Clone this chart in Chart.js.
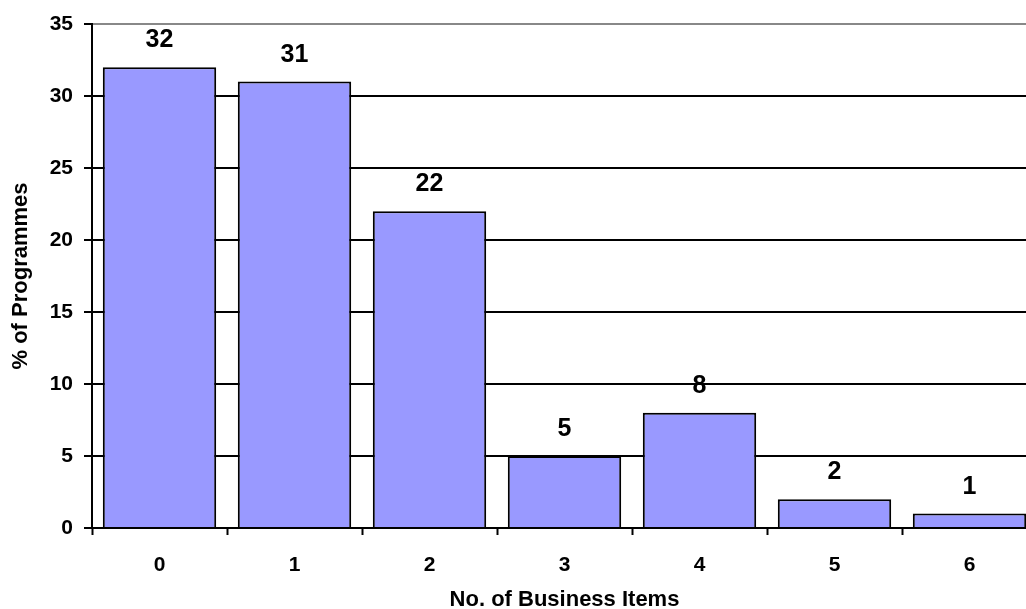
<!DOCTYPE html>
<html>
<head>
<meta charset="utf-8">
<script src="https://cdn.jsdelivr.net/npm/chart.js@4"></script>
<style>
  html, body { margin: 0; padding: 0; background: #fff; overflow: hidden; }
  #wrap { width: 1040px; height: 609px; }
</style>
</head>
<body>
<div id="wrap"><canvas id="myChart"></canvas></div>
<script>
// Datos
const categorias = ['0', '1', '2', '3', '4', '5', '6'];
const porcentajes = [32, 31, 22, 5, 8, 2, 1];
const tituloX = 'No. of Business Items';
const tituloY = '% of Programmes';

const fuente = '"Liberation Sans", Arial, sans-serif';

// Etiquetas de valor encima de cada barra
const etiquetas = {
    id: 'etiquetas',
    afterDatasetsDraw(chart) {
        const ctx = chart.ctx;
        const meta = chart.getDatasetMeta(0);
        ctx.save();
        ctx.font = 'bold 25px ' + fuente;
        ctx.fillStyle = '#000';
        ctx.textAlign = 'center';
        ctx.textBaseline = 'alphabetic';
        meta.data.forEach((bar, i) => {
            ctx.fillText(porcentajes[i], bar.x, bar.y - 20);
        });
        ctx.restore();
    }
};

const ctx = document.getElementById('myChart').getContext('2d');

const myChart = new Chart(ctx, {
    type: 'bar',
    data: {
        labels: categorias,
        datasets: [{
            data: porcentajes,
            backgroundColor: '#9999ff',
            borderColor: '#000',
            borderWidth: 2,
            categoryPercentage: 0.84,
            barPercentage: 1
        }]
    },
    options: {
        responsive: true,
        maintainAspectRatio: false,
        animation: false,
        layout: { padding: { top: 24, left: 0, right: 3, bottom: 0 } },
        plugins: {
            legend: { display: false },
            tooltip: { enabled: false }
        },
        scales: {
            x: {
                afterFit: (s) => { s.height = 81; },
                grid: {
                    offset: true,
                    drawOnChartArea: false,
                    tickLength: 7,
                    tickColor: '#000',
                    tickWidth: 2
                },
                border: { color: '#000', width: 2 },
                ticks: {
                    color: '#000',
                    padding: 18,
                    font: { family: fuente, size: 21, weight: 'bold' }
                },
                title: {
                    display: true,
                    text: tituloX,
                    color: '#000',
                    padding: { top: 0, bottom: 0 },
                    font: { family: fuente, size: 22, weight: 'bold', lineHeight: 0.8 }
                }
            },
            y: {
                min: 0,
                max: 35,
                afterFit: (s) => { s.width = 92; },
                ticks: {
                    stepSize: 5,
                    color: '#000',
                    padding: 11,
                    font: { family: fuente, size: 21, weight: 'bold' }
                },
                grid: {
                    color: (c) => c.tick && c.tick.value === 35 ? '#888' : '#000',
                    lineWidth: 2,
                    tickLength: 8,
                    tickColor: '#000'
                },
                border: { color: '#000', width: 2 },
                title: {
                    display: true,
                    text: tituloY,
                    color: '#000',
                    padding: { top: 8, bottom: 0 },
                    font: { family: fuente, size: 22, weight: 'bold' }
                }
            }
        }
    },
    plugins: [etiquetas]
});
</script>
</body>
</html>
